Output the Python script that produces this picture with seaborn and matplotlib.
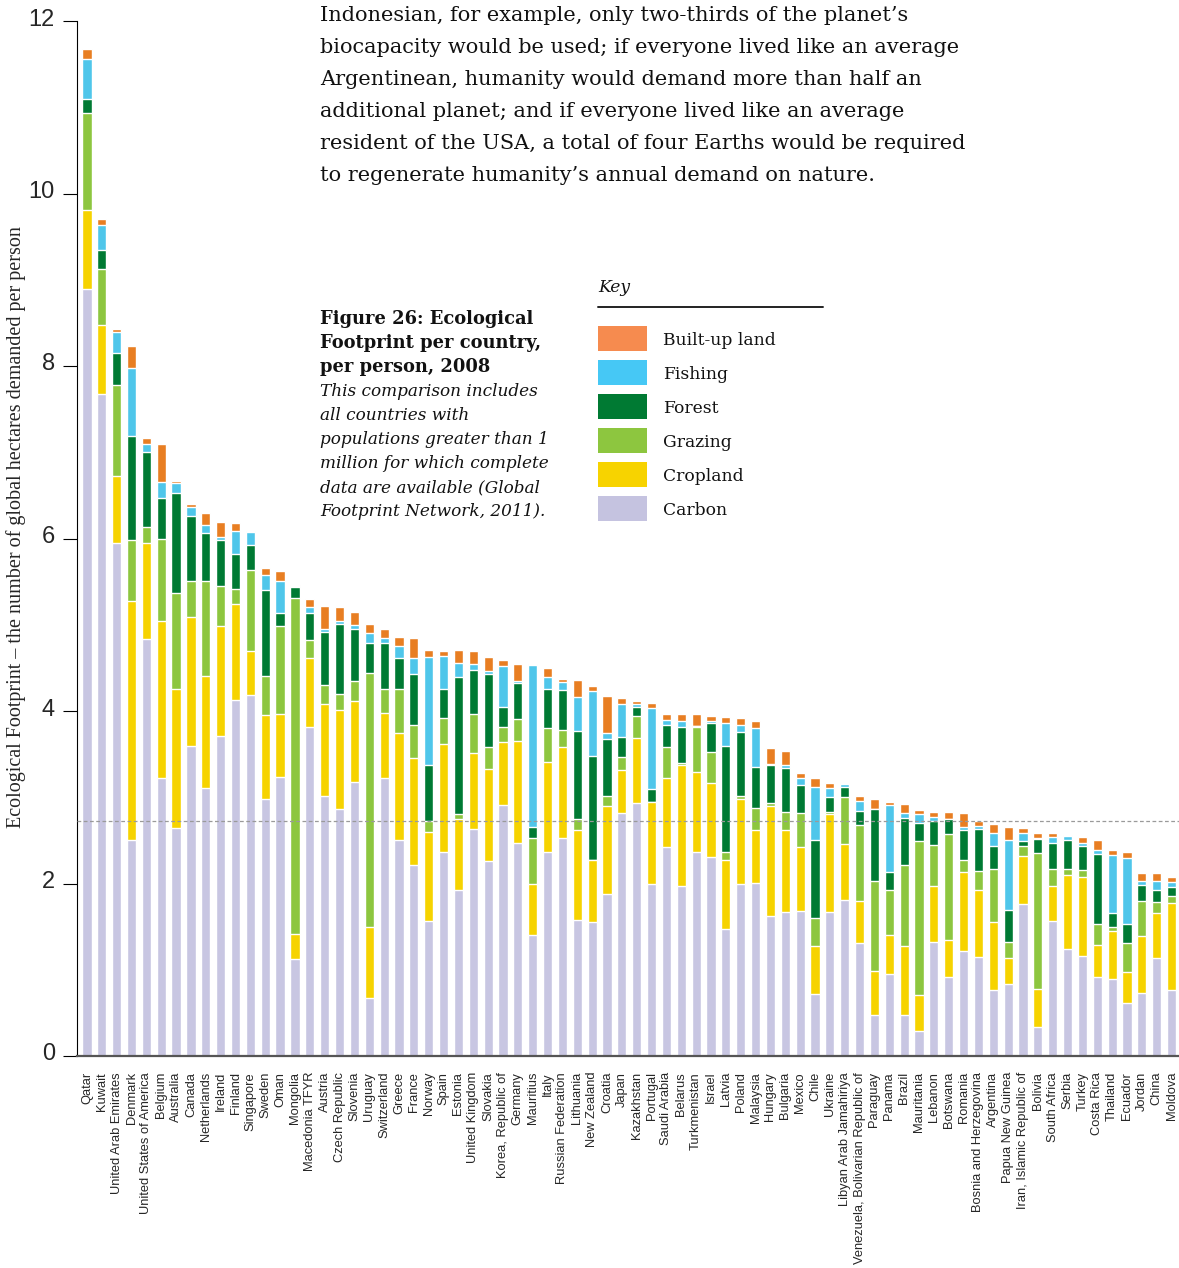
import numpy as np
import matplotlib
matplotlib.use("Agg")
import matplotlib.pyplot as plt
import matplotlib.transforms as mtransforms
from matplotlib.patches import Rectangle
from matplotlib.lines import Line2D
import seaborn as sns

countries = ["Qatar", "Kuwait", "United Arab Emirates", "Denmark", "United States of America",
             "Belgium", "Australia", "Canada", "Netherlands", "Ireland", "Finland", "Singapore",
             "Sweden", "Oman", "Mongolia", "Macedonia TFYR", "Austria", "Czech Republic",
             "Slovenia", "Uruguay", "Switzerland", "Greece", "France", "Norway", "Spain",
             "Estonia", "United Kingdom", "Slovakia", "Korea, Republic of", "Germany",
             "Mauritius", "Italy", "Russian Federation", "Lithuania", "New Zealand", "Croatia",
             "Japan", "Kazakhstan", "Portugal", "Saudi Arabia", "Belarus", "Turkmenistan",
             "Israel", "Latvia", "Poland", "Malaysia", "Hungary", "Bulgaria", "Mexico", "Chile",
             "Ukraine", "Libyan Arab Jamahiriya", "Venezuela, Bolivarian Republic of",
             "Paraguay", "Panama", "Brazil", "Mauritania", "Lebanon", "Botswana", "Romania",
             "Bosnia and Herzegovina", "Argentina", "Papua New Guinea",
             "Iran, Islamic Republic of", "Bolivia", "South Africa", "Serbia", "Turkey",
             "Costa Rica", "Thailand", "Ecuador", "Jordan", "China", "Moldova"]

carbon = [8.89, 7.68, 5.95, 2.50, 4.84, 3.22, 2.64, 3.60, 3.11, 3.71,
          4.13, 4.18, 2.98, 3.24, 1.13, 3.82, 3.02, 2.86, 3.18, 0.67,
          3.22, 2.50, 2.22, 1.56, 2.36, 1.92, 2.63, 2.26, 2.91, 2.47,
          1.40, 2.37, 2.53, 1.58, 1.55, 1.88, 2.82, 2.93, 1.99, 2.42,
          1.97, 2.36, 2.31, 1.47, 2.00, 2.01, 1.62, 1.67, 1.68, 0.72,
          1.67, 1.81, 1.31, 0.47, 0.95, 0.47, 0.29, 1.32, 0.92, 1.22,
          1.15, 0.76, 0.83, 1.76, 0.34, 1.56, 1.24, 1.16, 0.92, 0.89,
          0.62, 0.73, 1.14, 0.76]
cropland = [0.92, 0.80, 0.77, 2.78, 1.11, 1.82, 1.62, 1.49, 1.30, 1.27,
            1.11, 0.52, 0.97, 0.72, 0.28, 0.79, 1.06, 1.15, 0.94, 0.83,
            0.76, 1.24, 1.23, 1.04, 1.26, 0.83, 0.88, 1.07, 0.73, 1.18,
            0.59, 1.04, 1.05, 1.04, 0.72, 1.02, 0.50, 0.76, 0.96, 0.80,
            1.40, 0.93, 0.86, 0.80, 0.98, 0.61, 1.28, 0.95, 0.74, 0.55,
            1.14, 0.65, 0.49, 0.51, 0.45, 0.80, 0.42, 0.65, 0.42, 0.91,
            0.78, 0.79, 0.31, 0.56, 0.44, 0.41, 0.86, 0.92, 0.37, 0.56,
            0.35, 0.66, 0.52, 1.01]
grazing = [1.12, 0.64, 1.06, 0.70, 0.18, 0.96, 1.11, 0.42, 1.10, 0.47,
           0.18, 0.93, 0.46, 1.03, 3.90, 0.21, 0.22, 0.19, 0.23, 2.94,
           0.27, 0.52, 0.39, 0.13, 0.30, 0.06, 0.45, 0.25, 0.18, 0.26,
           0.54, 0.39, 0.20, 0.13, 0.00, 0.12, 0.15, 0.25, 0.00, 0.36,
           0.03, 0.52, 0.36, 0.09, 0.04, 0.26, 0.03, 0.21, 0.40, 0.33,
           0.02, 0.54, 0.88, 1.05, 0.53, 0.95, 1.78, 0.48, 1.23, 0.14,
           0.22, 0.62, 0.18, 0.12, 1.57, 0.20, 0.07, 0.08, 0.24, 0.05,
           0.34, 0.41, 0.12, 0.09]
forest = [0.16, 0.23, 0.37, 1.21, 0.87, 0.47, 1.16, 0.75, 0.55, 0.53,
          0.40, 0.29, 0.99, 0.15, 0.13, 0.32, 0.62, 0.81, 0.60, 0.35,
          0.54, 0.36, 0.59, 0.64, 0.34, 1.59, 0.52, 0.85, 0.23, 0.42,
          0.12, 0.45, 0.46, 1.02, 1.21, 0.65, 0.23, 0.11, 0.14, 0.26,
          0.41, 0.02, 0.33, 1.23, 0.74, 0.47, 0.44, 0.51, 0.32, 0.91,
          0.17, 0.12, 0.16, 0.83, 0.20, 0.54, 0.21, 0.28, 0.18, 0.35,
          0.48, 0.27, 0.37, 0.05, 0.17, 0.30, 0.33, 0.28, 0.81, 0.16,
          0.22, 0.18, 0.14, 0.10]
fishing = [0.47, 0.29, 0.24, 0.79, 0.10, 0.18, 0.11, 0.10, 0.10, 0.04,
           0.27, 0.16, 0.18, 0.37, 0.01, 0.07, 0.03, 0.03, 0.05, 0.11,
           0.06, 0.13, 0.18, 1.26, 0.38, 0.16, 0.06, 0.03, 0.47, 0.02,
           1.88, 0.15, 0.10, 0.39, 0.75, 0.08, 0.38, 0.03, 0.95, 0.06,
           0.07, 0.00, 0.02, 0.27, 0.08, 0.45, 0.02, 0.03, 0.08, 0.61,
           0.11, 0.03, 0.12, 0.00, 0.78, 0.06, 0.11, 0.04, 0.00, 0.04,
           0.04, 0.14, 0.82, 0.10, 0.01, 0.07, 0.05, 0.03, 0.05, 0.67,
           0.76, 0.05, 0.11, 0.06]
builtup = [0.11, 0.07, 0.04, 0.25, 0.06, 0.44, 0.03, 0.04, 0.14, 0.17,
           0.09, 0.01, 0.08, 0.11, 0.01, 0.09, 0.27, 0.17, 0.15, 0.11,
           0.10, 0.11, 0.24, 0.08, 0.06, 0.15, 0.15, 0.17, 0.07, 0.19,
           0.01, 0.10, 0.03, 0.20, 0.06, 0.42, 0.07, 0.04, 0.05, 0.07,
           0.09, 0.13, 0.06, 0.07, 0.08, 0.08, 0.18, 0.17, 0.06, 0.10,
           0.06, 0.02, 0.05, 0.12, 0.04, 0.10, 0.04, 0.06, 0.08, 0.16,
           0.05, 0.11, 0.15, 0.05, 0.06, 0.04, 0.01, 0.07, 0.11, 0.06,
           0.07, 0.09, 0.09, 0.06]
world_average = 2.72

component_names = ["Carbon", "Cropland", "Grazing", "Forest", "Fishing", "Built-up land"]
bar_colors = ["#C8C6E2", "#F6D300", "#8DC63F", "#007A33", "#4FC6EA", "#E87E22"]
key_colors = ["#C5C3E0", "#F7D300", "#8DC63F", "#007A33", "#46C8F5", "#F68B4F"]

sns.set_style("white")
plt.rcParams['font.family'] = ['Liberation Sans', 'DejaVu Sans']

W, H = 1179, 1268
def fy(py):
    return 1 - py / H

fig = plt.figure(figsize=(W / 100, H / 100), dpi=100)
ax = fig.add_axes([77 / W, (H - 1056) / H, (W - 77) / W, (1056 - 21) / H])

stack = np.cumsum(np.array([carbon, cropland, grazing, forest, fishing, builtup]), axis=0)
for i in reversed(range(len(component_names))):
    sns.barplot(x=countries, y=stack[i], order=countries, color=bar_colors[i],
                width=0.62, saturation=1, errorbar=None, ax=ax, zorder=2)

ax.axhline(world_average, color="#9a9a9a", lw=0.9, ls=(0, (3, 2)), zorder=3)

ax.set_xlim(-0.67, 73.5)
ax.set_ylim(0, 12)
ax.set_yticks(range(0, 13, 2))
ax.set_xlabel("")
ax.set_ylabel("")
ax.tick_params(axis="y", left=True, length=10, width=0.8, color="black", pad=6,
               labelsize=17, direction="out")
ax.tick_params(axis="x", bottom=False, length=0, pad=11.5, labelsize=9.3, labelrotation=90)
for lab in ax.get_xticklabels():
    lab.set_va("top")
    lab.set_ha("center")
shift_up = mtransforms.ScaledTranslation(0, 4 / 100, fig.dpi_scale_trans)
for lab in ax.get_yticklabels():
    lab.set_transform(lab.get_transform() + shift_up)
for s in ["top", "right"]:
    ax.spines[s].set_visible(False)
ax.spines["left"].set_color("black")
ax.spines["left"].set_linewidth(0.8)
ax.spines["bottom"].set_color("#555555")
ax.spines["bottom"].set_linewidth(1.6)

fig.text(16 / W, fy(527),
         "Ecological Footprint \u2013 the number of global hectares demanded per person",
         rotation=90, ha="center", va="center", family="Liberation Serif", fontsize=14.5)

para = ["Indonesian, for example, only two-thirds of the planet\u2019s",
        "biocapacity would be used; if everyone lived like an average",
        "Argentinean, humanity would demand more than half an",
        "additional planet; and if everyone lived like an average",
        "resident of the USA, a total of four Earths would be required",
        "to regenerate humanity\u2019s annual demand on nature."]
for i, line in enumerate(para):
    fig.text(320 / W, fy(21 + 32 * i), line, family="DejaVu Serif", fontsize=15,
             ha="left", va="baseline", color="#111111")

title_lines = ["Figure 26: Ecological", "Footprint per country,", "per person, 2008"]
for i, line in enumerate(title_lines):
    fig.text(320 / W, fy(324 + 24 * i), line, family="DejaVu Serif", fontsize=12.9,
             weight="bold", ha="left", va="baseline", color="#111111")
note_lines = ["This comparison includes", "all countries with",
              "populations greater than 1", "million for which complete",
              "data are available (Global", "Footprint Network, 2011)."]
for i, line in enumerate(note_lines):
    fig.text(320 / W, fy(396 + 24 * i), line, family="DejaVu Serif", fontsize=12.2,
             style="italic", ha="left", va="baseline", color="#111111")

fig.text(598 / W, fy(292), "Key", family="DejaVu Serif", fontsize=12.3,
         style="italic", ha="left", va="baseline", color="#111111")
fig.add_artist(Line2D([598 / W, 823 / W], [fy(307), fy(307)], color="#222222", lw=1.4))

for row, i in enumerate(reversed(range(len(component_names)))):
    top = 326 + 34 * row
    fig.add_artist(Rectangle((598 / W, fy(top + 25)), 49 / W, 25 / H,
                             transform=fig.transFigure, facecolor=key_colors[i],
                             edgecolor="none"))
    fig.text(663 / W, fy(top + 12.5), component_names[i], family="DejaVu Serif",
             fontsize=12.3, ha="left", va="center_baseline", color="#111111")

fig.savefig("out.png", dpi=100)
